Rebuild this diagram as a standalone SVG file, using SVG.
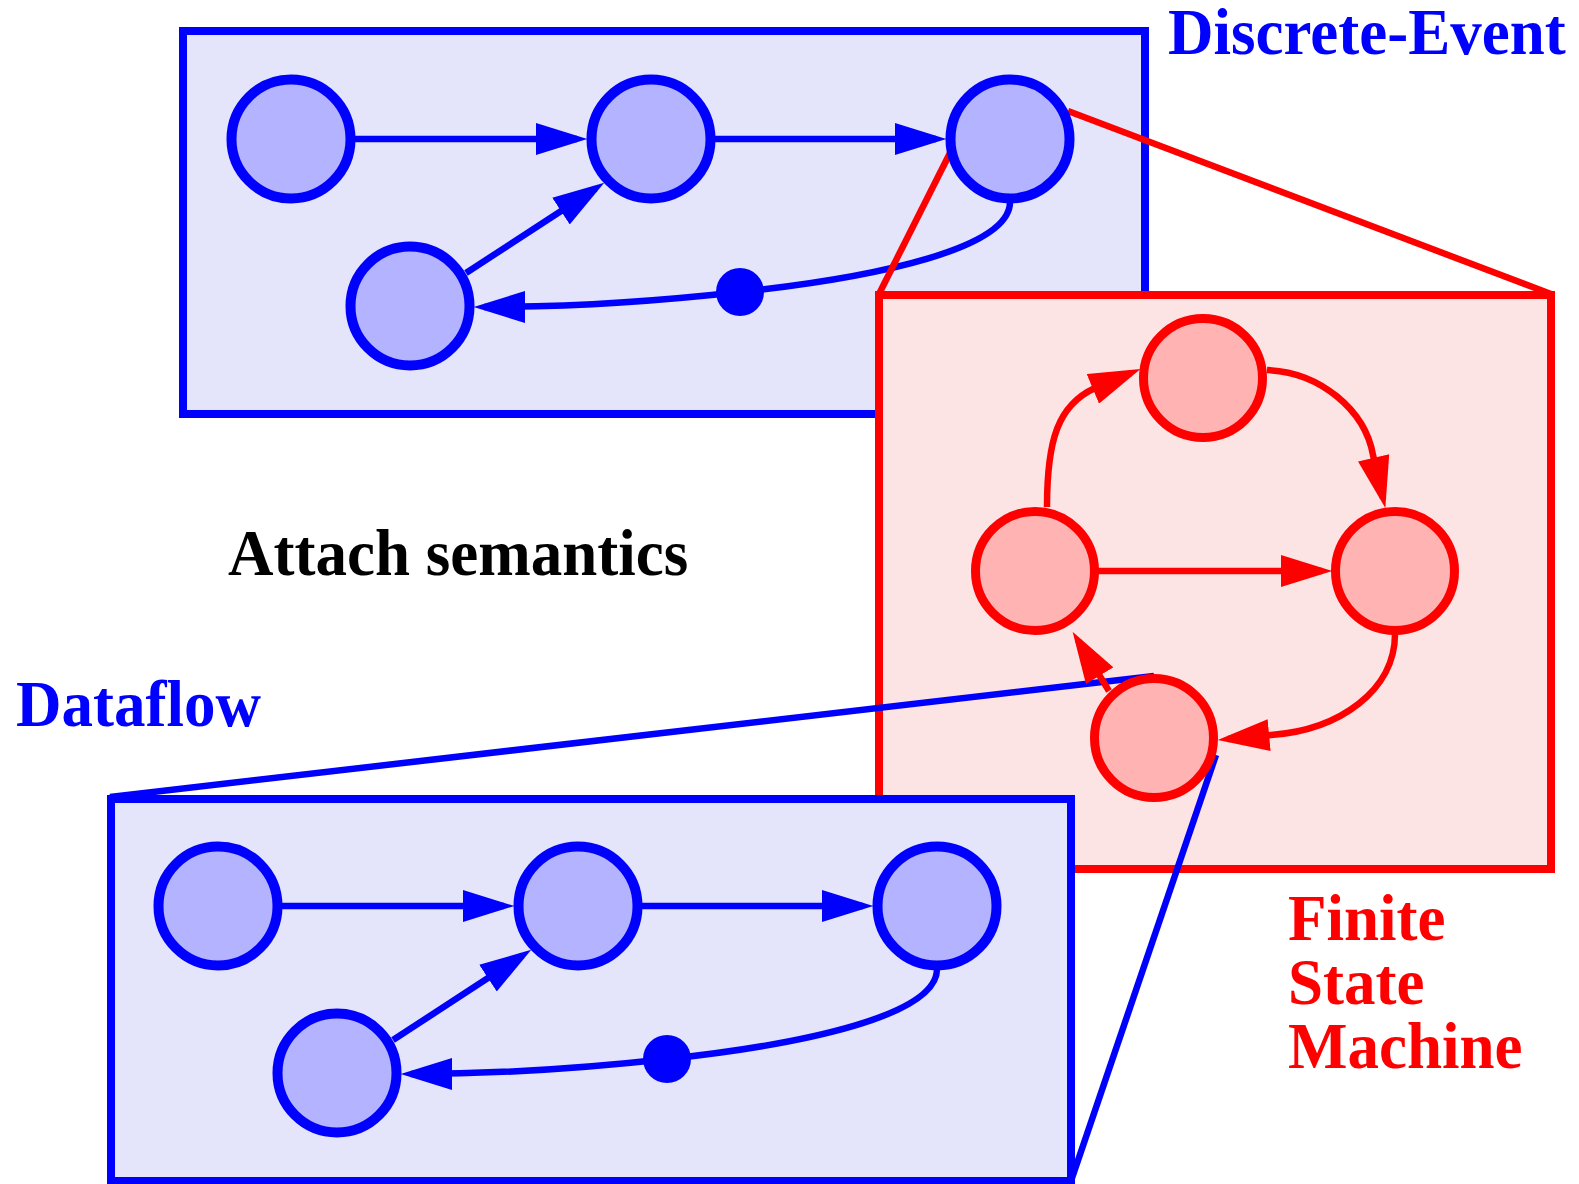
<svg xmlns="http://www.w3.org/2000/svg" width="1579" height="1184" viewBox="0 0 1579 1184">
<defs>
<style>
.bbox{fill:#e4e4fb;stroke:#0000ff;stroke-width:8}
.rbox{fill:#fde4e4;stroke:#ff0000;stroke-width:8}
.bn{fill:#b3b3ff;stroke:#0000ff;stroke-width:10}
.rn{fill:#ffb3b3;stroke:#ff0000;stroke-width:9}
.be{fill:none;stroke:#0000ff;stroke-width:6.5}
.re{fill:none;stroke:#ff0000;stroke-width:6.5}
.bl{stroke:#0000ff;stroke-width:6.5}
.rl{stroke:#ff0000;stroke-width:6.5}
.t{font-family:"Liberation Serif","Times New Roman",serif;font-weight:bold;font-size:66px}
</style>
<marker id="ab" markerUnits="userSpaceOnUse" markerWidth="52" markerHeight="32" refX="40" refY="15.5" orient="auto" viewBox="0 0 50 31">
<path d="M0,0 L50,15.5 L0,31 z" fill="#0000ff"/>
</marker>
<marker id="ar" markerUnits="userSpaceOnUse" markerWidth="52" markerHeight="32" refX="40" refY="15.5" orient="auto" viewBox="0 0 50 31">
<path d="M0,0 L50,15.5 L0,31 z" fill="#ff0000"/>
</marker>
</defs>

<g id="de-box"><rect class="bbox" x="183" y="31" width="962" height="383"/></g>
<g id="de-connectors">
<line class="be" x1="355" y1="139" x2="577" y2="139" marker-end="url(#ab)"/>
<line class="be" x1="715" y1="139" x2="936" y2="139" marker-end="url(#ab)"/>
<line class="be" x1="466" y1="273" x2="595.6" y2="188.5" marker-end="url(#ab)"/>
<path class="be" d="M1010,202 C1010,248 880,277 740,292 C650,302 560,307 484,307" marker-end="url(#ab)"/>
<circle cx="740" cy="292" r="24" fill="#0000ff"/>
</g>
<g id="de-n1"><circle class="bn" cx="291" cy="139" r="59.5"/></g>
<g id="de-n2"><circle class="bn" cx="651" cy="139" r="59.5"/></g>
<g id="de-n4"><circle class="bn" cx="410" cy="306" r="59.5"/></g>

<g id="zoom-red">
<line class="rl" x1="1068" y1="111" x2="1551" y2="294"/>
<line class="rl" x1="950" y1="153" x2="879" y2="294"/>
</g>
<g id="de-n3"><circle class="bn" cx="1010" cy="139" r="59.5"/></g>

<g id="fsm-box"><rect class="rbox" x="879" y="295" width="672" height="574"/></g>

<g id="zoom-blue">
<line class="bl" x1="110" y1="797" x2="1154" y2="676"/>
<line class="bl" x1="1216" y1="755" x2="1071" y2="1181"/>
</g>

<g id="fsm-connectors">
<path class="re" d="M1047,507 C1047,440 1058,405 1095,388 L1131,373" marker-end="url(#ar)"/>
<path class="re" d="M1267,370 C1320,372 1365,410 1373,455 L1383,498" marker-end="url(#ar)"/>
<line class="re" x1="1098" y1="571" x2="1322" y2="571" marker-end="url(#ar)"/>
<path class="re" d="M1395,634 C1395,690 1340,730 1271,735 L1228,739" marker-end="url(#ar)"/>
<line class="re" x1="1109" y1="691" x2="1078" y2="640.5" marker-end="url(#ar)"/>
</g>
<g id="fsm-n1"><circle class="rn" cx="1203" cy="378" r="59.5"/></g>
<g id="fsm-n2"><circle class="rn" cx="1035" cy="571" r="59.5"/></g>
<g id="fsm-n3"><circle class="rn" cx="1395" cy="571" r="59.5"/></g>
<g id="fsm-n4"><circle class="rn" cx="1154" cy="738" r="59.5"/></g>

<g id="df-box"><rect class="bbox" x="111" y="799" width="960" height="382"/></g>
<g id="df-connectors">
<line class="be" x1="282" y1="906" x2="504" y2="906" marker-end="url(#ab)"/>
<line class="be" x1="642" y1="906" x2="863" y2="906" marker-end="url(#ab)"/>
<line class="be" x1="393" y1="1040" x2="522.6" y2="955.5" marker-end="url(#ab)"/>
<path class="be" d="M937,969 C937,1015 807,1044 667,1059 C577,1069 487,1074 411,1074" marker-end="url(#ab)"/>
<circle cx="667" cy="1059" r="24" fill="#0000ff"/>
</g>
<g id="df-n1"><circle class="bn" cx="218" cy="906" r="59.5"/></g>
<g id="df-n2"><circle class="bn" cx="578" cy="906" r="59.5"/></g>
<g id="df-n3"><circle class="bn" cx="937" cy="906" r="59.5"/></g>
<g id="df-n4"><circle class="bn" cx="337" cy="1073" r="59.5"/></g>

<g id="labels">
<text class="t" transform="translate(1168,54) scale(0.955,1)" fill="#0000ff">Discrete-Event</text>
<text class="t" transform="translate(228,575) scale(0.955,1)" fill="#000000">Attach semantics</text>
<text class="t" transform="translate(16,726) scale(0.955,1)" fill="#0000ff">Dataflow</text>
<text class="t" transform="translate(1288,940) scale(0.955,1)" fill="#ff0000">Finite</text>
<text class="t" transform="translate(1288,1004) scale(0.955,1)" fill="#ff0000">State</text>
<text class="t" transform="translate(1288,1068) scale(0.955,1)" fill="#ff0000">Machine</text>
</g>
</svg>
